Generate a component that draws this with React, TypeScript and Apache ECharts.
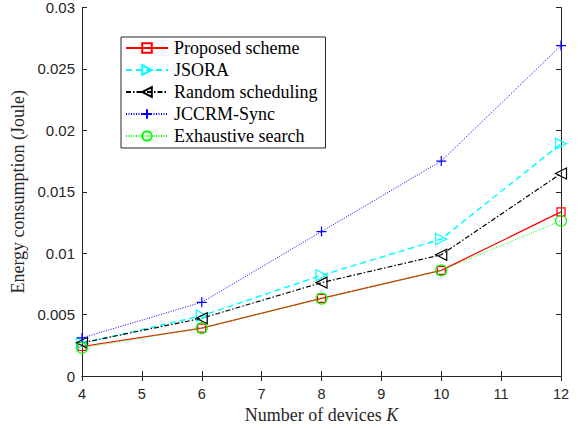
import React, { useEffect, useRef } from "react";
import * as echarts from "echarts";

const devices = [4, 6, 8, 10, 12];
const proposed = [0.0024, 0.0039, 0.00632, 0.0086, 0.01336];
const jsora = [0.00266, 0.0049, 0.0082, 0.01115, 0.0189];
const randomSched = [0.0027, 0.0047, 0.0076, 0.00987, 0.01648];
const jccrm = [0.0031, 0.006, 0.01176, 0.0175, 0.0269];
const exhaustive = [0.0023, 0.0039, 0.0063, 0.0086, 0.01264];
const seriesNames = ["Proposed scheme", "JSORA", "Random scheduling", "JCCRM-Sync", "Exhaustive search"];

const pts = (arr: number[]) => arr.map((v, i) => [devices[i], v]);

export default function App() {
  const ref = useRef<HTMLDivElement>(null);
  useEffect(() => {
    const chart = echarts.init(ref.current!, undefined, { renderer: "svg" });
    const mk = (name: string, data: number[], color: string, type: any, symbol: string, size: number, width: number) => ({
      name,
      type: "line",
      data: pts(data),
      symbol,
      symbolSize: size,
      showSymbol: true,
      lineStyle: { color, width, type },
      itemStyle: { color: "rgba(0,0,0,0)", borderColor: color, borderWidth: 1.2 },
      z: 3,
    });
    const axisCommon = {
      axisLine: { show: true, lineStyle: { color: "#262626", width: 1 } },
      axisTick: { show: true, inside: true, length: 5, lineStyle: { color: "#262626" } },
      splitLine: { show: false },
    };
    const serif = "Liberation Serif";
    chart.setOption({
      animation: false,
      backgroundColor: "#fff",
      grid: { left: 82, right: 21, top: 6, bottom: 47 },
      legend: {
        orient: "vertical",
        left: 121,
        top: 37,
        width: 208,
        padding: [2, 8, 3, 4],
        itemGap: 4,
        itemWidth: 42,
        itemHeight: 12,
        borderColor: "#262626",
        borderWidth: 1,
        backgroundColor: "#fff",
        textStyle: { fontFamily: serif, fontSize: 18, color: "#000", padding: [0, 0, 0, 1] },
        data: seriesNames,
      },
      xAxis: [
        {
          type: "value",
          min: 4,
          max: 12,
          interval: 1,
          ...axisCommon,
          axisLabel: { fontFamily: "Liberation Sans", fontSize: 14.5, color: "#262626", margin: 10 },
          name: "Number of devices {i|K}",
          nameLocation: "middle",
          nameGap: 30,
          nameTextStyle: {
            fontFamily: serif,
            fontSize: 18,
            color: "#262626",
            rich: { i: { fontFamily: serif, fontStyle: "italic", fontSize: 18, color: "#262626" } },
          },
        },
        { type: "value", position: "top", min: 4, max: 12, interval: 1, ...axisCommon, axisLabel: { show: false } },
      ],
      yAxis: [
        {
          type: "value",
          min: 0,
          max: 0.03,
          interval: 0.005,
          ...axisCommon,
          axisLabel: { fontFamily: "Liberation Sans", fontSize: 15, color: "#262626", margin: 7 },
          name: "Energy consumption (Joule)",
          nameLocation: "middle",
          nameGap: 48,
          nameTextStyle: { fontFamily: serif, fontSize: 18, color: "#262626" },
        },
        { type: "value", position: "right", min: 0, max: 0.03, interval: 0.005, ...axisCommon, axisLabel: { show: false } },
      ],
      series: [
        mk(seriesNames[0], proposed, "#ff0000", "solid", "path://M0,0 L10,0 L10,10 L0,10 Z", 8, 1.2),
        mk(seriesNames[1], jsora, "#00ffff", [6, 4], "path://M0,0 L10,5 L0,10 Z", 11, 1.5),
        mk(seriesNames[2], randomSched, "#000000", [5, 2, 1.5, 2], "path://M10,0 L0,5 L10,10 Z", 11, 1.2),
        mk(seriesNames[3], jccrm, "#0000ff", [1, 1.5], "path://M5,0 L5,10 M0,5 L10,5", 10, 1),
        mk(seriesNames[4], exhaustive, "#00ff00", [1, 1.5], "path://M10,5 A5,5 0 1 1 0,5 A5,5 0 1 1 10,5 Z", 11, 1),
      ],
    });
    return () => chart.dispose();
  }, []);
  return <div ref={ref} style={{ width: 582, height: 429, position: "absolute", left: 0, top: 0 }} />;
}
